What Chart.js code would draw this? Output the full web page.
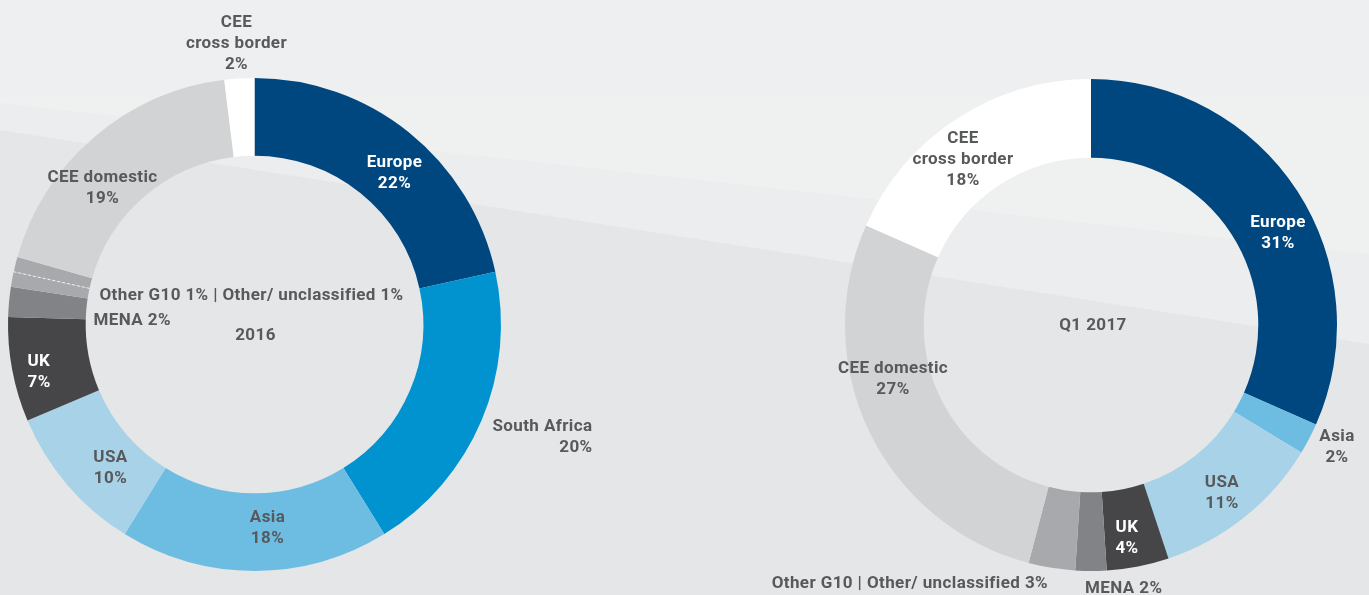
<!DOCTYPE html>
<html>
<head>
<meta charset="utf-8">
<script src="https://cdn.jsdelivr.net/npm/chart.js@4.4.1/dist/chart.umd.min.js"></script>
<style>
  html, body { margin: 0; padding: 0; }
  body { width: 1369px; height: 595px; position: relative; overflow: hidden; background: #e5e6e7; }
  .band { position: absolute; left: 0; top: 0; width: 1369px; height: 595px; }
  #bandLow { background: #ecedee; clip-path: polygon(0 0, 1369px 0, 1369px 344px, 0 130px); }
  #bandMid { background: #eff0f0; clip-path: polygon(0 0, 1369px 0, 1369px 254px, 0 103px); }
  #bandTop { background: #eeeff0; clip-path: polygon(0 0, 1369px 0, 1369px 97px, 0 97px); }
  canvas { position: absolute; left: 0; top: 0; }
</style>
</head>
<body>
<div class="band" id="bandLow"></div>
<div class="band" id="bandMid"></div>
<div class="band" id="bandTop"></div>
<canvas id="chart2016" width="1369" height="595"></canvas>
<canvas id="chart2017" width="1369" height="595"></canvas>

<script>
// ========== DATA ==========
const cats2016 = ['Europe', 'South Africa', 'Asia', 'USA', 'UK', 'MENA', 'Other/ unclassified', 'Other G10', 'CEE domestic', 'CEE cross border'];
const share2016 = [22, 20, 18, 10, 7, 2, 1, 1, 19, 2];

const cats2017 = ['Europe', 'Asia', 'USA', 'UK', 'MENA', 'Other G10 | Other/ unclassified', 'CEE domestic', 'CEE cross border'];
const share2017 = [31, 2, 11, 4, 2, 3, 27, 18];

const COLORS = {
    'Europe': '#00467f',
    'South Africa': '#0093d0',
    'Asia': '#6dbde3',
    'USA': '#a8d2e8',
    'UK': '#464648',
    'MENA': '#818386',
    'Other/ unclassified': '#a7a9ac',
    'Other G10': '#a7a9ac',
    'Other G10 | Other/ unclassified': '#a7a9ac',
    'CEE domestic': '#d1d3d4',
    'CEE cross border': '#ffffff'
};

const GREY = '#58595b';
const WHITE = '#ffffff';
const FONT_SIZE = 17;
const FONT = `bold ${FONT_SIZE}px Roboto, "Open Sans", sans-serif`;
const LINE_H = 21;

const pct = v => v + '%';

// label layout: offsets from the ring centre, y = centre of the first line
const labels2016 = [
    { lines: ['Europe', pct(share2016[0])], dx: 140, dy: -164, color: WHITE },
    { lines: ['South Africa', pct(share2016[1])], dx: 338, dy: 100, align: 'right', color: GREY },
    { lines: ['Asia', pct(share2016[2])], dx: 13, dy: 191, color: GREY },
    { lines: ['USA', pct(share2016[3])], dx: -144, dy: 131, color: GREY },
    { lines: ['UK', pct(share2016[4])], dx: -227, dy: 35, align: 'left', color: WHITE },
    { lines: [`${cats2016[5]} ${pct(share2016[5])}`], dx: -161, dy: -6, align: 'left', color: GREY },
    { lines: [`${cats2016[7]} ${pct(share2016[7])} | ${cats2016[6]} ${pct(share2016[6])}`], dx: -155, dy: -31, align: 'left', color: GREY },
    { lines: ['CEE domestic', pct(share2016[8])], dx: -152, dy: -149, color: GREY },
    { lines: ['CEE', 'cross border', pct(share2016[9])], dx: -18, dy: -304, color: GREY },
    { lines: ['2016'], dx: 1, dy: 9, color: GREY }
];

const labels2017 = [
    { lines: ['Europe', pct(share2017[0])], dx: 187, dy: -104, color: WHITE },
    { lines: ['Asia', pct(share2017[1])], dx: 246, dy: 110, color: GREY },
    { lines: ['USA', pct(share2017[2])], dx: 131, dy: 156, color: GREY },
    { lines: ['UK', pct(share2017[3])], dx: 36, dy: 201, color: WHITE },
    { lines: [`${cats2017[4]} ${pct(share2017[4])}`], dx: -6, dy: 262, align: 'left', color: GREY },
    { lines: [`${cats2017[5]} ${pct(share2017[5])}`], dx: -43, dy: 257, align: 'right', color: GREY },
    { lines: ['CEE domestic', pct(share2017[6])], dx: -198, dy: 42, color: GREY },
    { lines: ['CEE', 'cross border', pct(share2017[7])], dx: -128, dy: -188, color: GREY },
    { lines: ['Q1 2017'], dx: 2, dy: -1, color: GREY }
];

// ========== PLUGINS ==========
const ringLabels = {
    id: 'ringLabels',
    afterDraw(chart, args, opts) {
        const arc = chart.getDatasetMeta(0).data[0];
        if (!arc) return;
        const ctx = chart.ctx;
        ctx.save();
        ctx.font = FONT;
        ctx.letterSpacing = '0.4px';
        ctx.textBaseline = 'alphabetic';
        (opts.items || []).forEach(item => {
            ctx.fillStyle = item.color;
            ctx.textAlign = item.align || 'center';
            item.lines.forEach((line, i) => {
                const y = arc.y + item.dy + i * LINE_H + FONT_SIZE * 0.36;
                ctx.fillText(line, arc.x + item.dx, y);
            });
        });
        ctx.restore();
    }
};

// dashed divider between two adjacent slices of the same colour
const sliceDivider = {
    id: 'sliceDivider',
    afterDatasetsDraw(chart, args, opts) {
        if (opts.after == null) return;
        const arc = chart.getDatasetMeta(0).data[opts.after];
        if (!arc) return;
        const ctx = chart.ctx;
        const a = arc.endAngle;
        ctx.save();
        ctx.strokeStyle = 'rgba(255,255,255,0.8)';
        ctx.lineWidth = 1;
        ctx.setLineDash([3, 2]);
        ctx.beginPath();
        ctx.moveTo(arc.x + Math.cos(a) * arc.innerRadius, arc.y + Math.sin(a) * arc.innerRadius);
        ctx.lineTo(arc.x + Math.cos(a) * arc.outerRadius, arc.y + Math.sin(a) * arc.outerRadius);
        ctx.stroke();
        ctx.restore();
    }
};

function makeRing(id, cats, values, padding, cutout, items, divider) {
    return new Chart(document.getElementById(id), {
        type: 'doughnut',
        data: {
            labels: cats,
            datasets: [{
                data: values,
                backgroundColor: cats.map(c => COLORS[c]),
                borderWidth: 0,
                hoverOffset: 0
            }]
        },
        options: {
            responsive: false,
            animation: false,
            cutout,
            layout: { padding },
            plugins: {
                legend: { display: false },
                tooltip: { enabled: false },
                ringLabels: { items },
                sliceDivider: { after: divider }
            },
            events: []
        },
        plugins: [ringLabels, sliceDivider]
    });
}

// ========== INIT ==========
makeRing('chart2016', cats2016, share2016, { left: 8, top: 78, right: 868, bottom: 24 }, '68.5%', labels2016, 6);
makeRing('chart2017', cats2017, share2017, { left: 845, top: 79, right: 32, bottom: 24 }, '68%', labels2017, null);
</script>
</body>
</html>
